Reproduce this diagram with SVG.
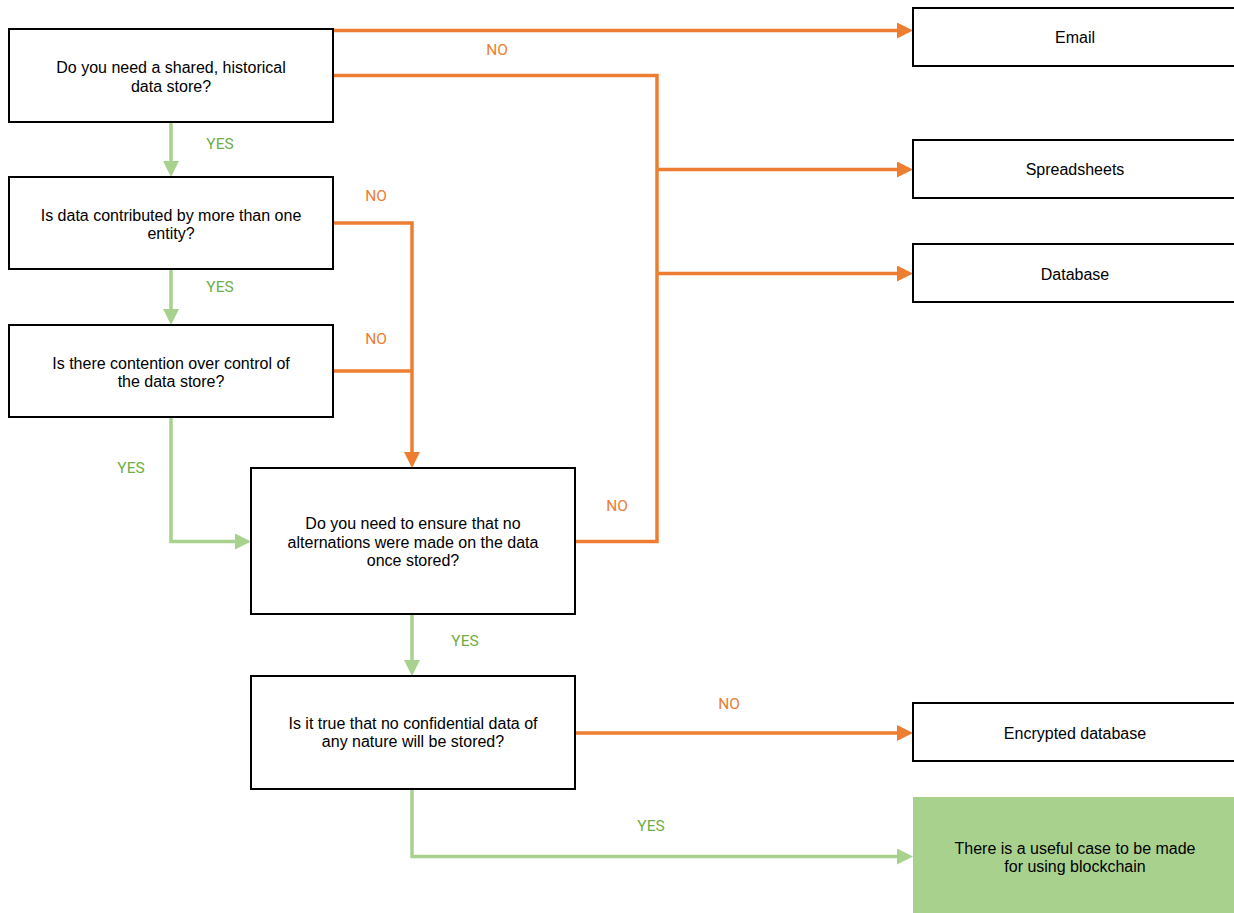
<svg xmlns="http://www.w3.org/2000/svg" width="1234" height="913" viewBox="0 0 1234 913">
<style>
.box{fill:#fff;stroke:#000;stroke-width:2}
.final{fill:#a9d18e;stroke:none}
.t{font-family:"Liberation Sans",Arial,sans-serif;font-size:16px;fill:#000;text-anchor:middle}
.no{font-family:Roboto,"Liberation Sans",sans-serif;font-size:15.5px;fill:#ed7d31;text-anchor:middle}
.yes{font-family:Roboto,"Liberation Sans",sans-serif;font-size:15.5px;fill:#70ad47;text-anchor:middle}
.o{fill:none;stroke:#ed7d31;stroke-width:3.5}
.g{fill:none;stroke:#a9d18e;stroke-width:3.5}
</style>
<defs>
<marker id="ao" markerUnits="userSpaceOnUse" markerWidth="16" markerHeight="16" refX="12" refY="8" orient="auto"><path d="M0,0 L16,8 L0,16 z" fill="#ed7d31"/></marker>
<marker id="ag" markerUnits="userSpaceOnUse" markerWidth="16" markerHeight="16" refX="12" refY="8" orient="auto"><path d="M0,0 L16,8 L0,16 z" fill="#a9d18e"/></marker>
</defs>
<g id="connectors">
<path class="o" d="M333,30.5 H909" marker-end="url(#ao)"/>
<path class="o" d="M333,75.5 H657 V541.5 H575"/>
<path class="o" d="M657,169.5 H909" marker-end="url(#ao)"/>
<path class="o" d="M657,273.5 H909" marker-end="url(#ao)"/>
<path class="o" d="M333,223 H412 V464" marker-end="url(#ao)"/>
<path class="o" d="M333,371 H412"/>
<path class="o" d="M575,733 H909" marker-end="url(#ao)"/>
<path class="g" d="M171,122 V173" marker-end="url(#ag)"/>
<path class="g" d="M171,269 V321" marker-end="url(#ag)"/>
<path class="g" d="M171,417 V541.5 H247" marker-end="url(#ag)"/>
<path class="g" d="M412,614 V672" marker-end="url(#ag)"/>
<path class="g" d="M412,789 V856.5 H909" marker-end="url(#ag)"/>
<text class="no" x="497" y="55">NO</text>
<text class="no" x="376" y="201">NO</text>
<text class="no" x="376" y="344">NO</text>
<text class="no" x="617" y="511">NO</text>
<text class="no" x="729" y="709">NO</text>
<text class="yes" x="220" y="149">YES</text>
<text class="yes" x="220" y="292">YES</text>
<text class="yes" x="131" y="473">YES</text>
<text class="yes" x="465" y="646">YES</text>
<text class="yes" x="651" y="831">YES</text>
</g>
<g id="q1"><rect class="box" x="9" y="29" width="324" height="93"/><text class="t" x="171" y="73.3">Do you need a shared, historical</text><text class="t" x="171" y="91.7">data store?</text></g>
<g id="q2"><rect class="box" x="9" y="177" width="324" height="92"/><text class="t" x="171" y="220.8">Is data contributed by more than one</text><text class="t" x="171" y="239.2">entity?</text></g>
<g id="q3"><rect class="box" x="9" y="325" width="324" height="92"/><text class="t" x="171" y="368.8">Is there contention over control of</text><text class="t" x="171" y="387.2">the data store?</text></g>
<g id="q4"><rect class="box" x="251" y="468" width="324" height="146"/><text class="t" x="413" y="529.3">Do you need to ensure that no</text><text class="t" x="413" y="547.5">alternations were made on the data</text><text class="t" x="413" y="565.5">once stored?</text></g>
<g id="q5"><rect class="box" x="251" y="676" width="324" height="113"/><text class="t" x="413" y="729">Is it true that no confidential data of</text><text class="t" x="413" y="747.3">any nature will be stored?</text></g>
<g id="email"><rect class="box" x="913" y="8" width="324" height="58"/><text class="t" x="1075" y="43">Email</text></g>
<g id="spreadsheets"><rect class="box" x="913" y="140" width="324" height="58"/><text class="t" x="1075" y="175">Spreadsheets</text></g>
<g id="database"><rect class="box" x="913" y="244" width="324" height="58"/><text class="t" x="1075" y="280">Database</text></g>
<g id="encrypted"><rect class="box" x="913" y="703" width="324" height="58"/><text class="t" x="1075" y="739">Encrypted database</text></g>
<g id="blockchain"><rect class="final" x="913" y="797" width="324" height="120"/><text class="t" x="1075" y="854">There is a useful case to be made</text><text class="t" x="1075" y="872.3">for using blockchain</text></g>
</svg>
